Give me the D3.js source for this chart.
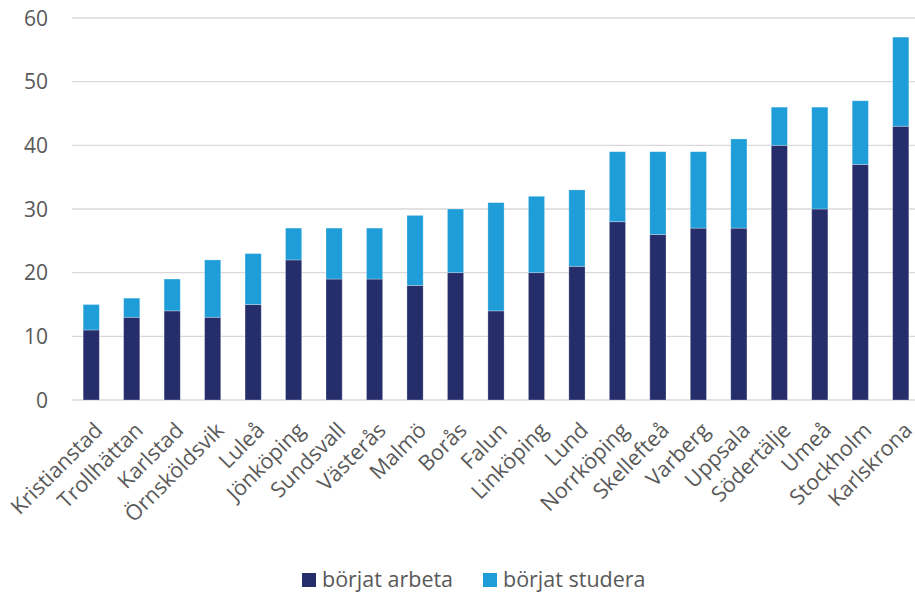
<!DOCTYPE html>
<html><head><meta charset="utf-8">
<script src="https://cdn.jsdelivr.net/npm/d3@7"></script>
<style>body{margin:0;background:#fff}svg{display:block;font-family:"Open Sans",sans-serif}</style>
</head><body><svg id="c" width="915" height="594"></svg>
<script>
const cities = ["Kristianstad","Trollhättan","Karlstad","Örnsköldsvik","Luleå","Jönköping","Sundsvall","Västerås","Malmö","Borås","Falun","Linköping","Lund","Norrköping","Skellefteå","Varberg","Uppsala","Södertälje","Umeå","Stockholm","Karlskrona"];
const arbeta  = [11,13,14,13,15,22,19,19,18,20,14,20,21,28,26,27,27,40,30,37,43];
const studera = [4,3,5,9,8,5,8,8,11,10,17,12,12,11,13,12,14,6,16,10,14];
const seriesNames = ["börjat arbeta","börjat studera"];
const colors = ["#252d6b","#1e9dd9"];
const yTicks = [0,10,20,30,40,50,60];

const svg = d3.select("#c");
const x = d3.scaleBand().domain(cities).range([71,921]).paddingInner(0.6).paddingOuter(0.3);
const y = d3.scaleLinear().domain([0,60]).range([400,18]);

svg.append("g").selectAll("line").data(yTicks).join("line")
  .attr("x1",72).attr("x2",915).attr("y1",d=>y(d)).attr("y2",d=>y(d))
  .attr("stroke","#d9d9d9").attr("stroke-width",1.3);
svg.append("g").selectAll("text").data(yTicks).join("text")
  .attr("x",48).attr("y",d=>y(d)).attr("dy","0.36em").attr("text-anchor","end")
  .attr("font-size",21).attr("fill","#595959").text(d=>d);

const data = cities.map((c,i)=>({city:c, "börjat arbeta":arbeta[i], "börjat studera":studera[i]}));
const stacked = d3.stack().keys(seriesNames)(data);
svg.append("g").selectAll("g").data(stacked).join("g")
  .attr("fill",(d,i)=>colors[i])
  .selectAll("rect").data(d=>d).join("rect")
  .attr("x",d=>x(d.data.city)).attr("width",x.bandwidth())
  .attr("y",d=>y(d[1])).attr("height",d=>y(d[0])-y(d[1]))
  .attr("stroke","#ffffff").attr("stroke-opacity",0.35).attr("stroke-width",0.8);

svg.append("g").selectAll("text").data(cities).join("text")
  .attr("transform",d=>`translate(${x(d)+x.bandwidth()/2+2},${421}) rotate(-45)`)
  .attr("text-anchor","end").attr("dy","0.7em")
  .attr("font-size",21.5).attr("fill","#595959").text(d=>d);

const lg = svg.append("g");
const lx = [302,483];
seriesNames.forEach((n,i)=>{
  lg.append("rect").attr("x",lx[i]).attr("y",573).attr("width",14).attr("height",14).attr("fill",colors[i]);
  lg.append("text").attr("x",lx[i]+20).attr("y",587)
    .attr("font-size",21.5).attr("fill","#595959").text(n);
});
</script></body></html>
